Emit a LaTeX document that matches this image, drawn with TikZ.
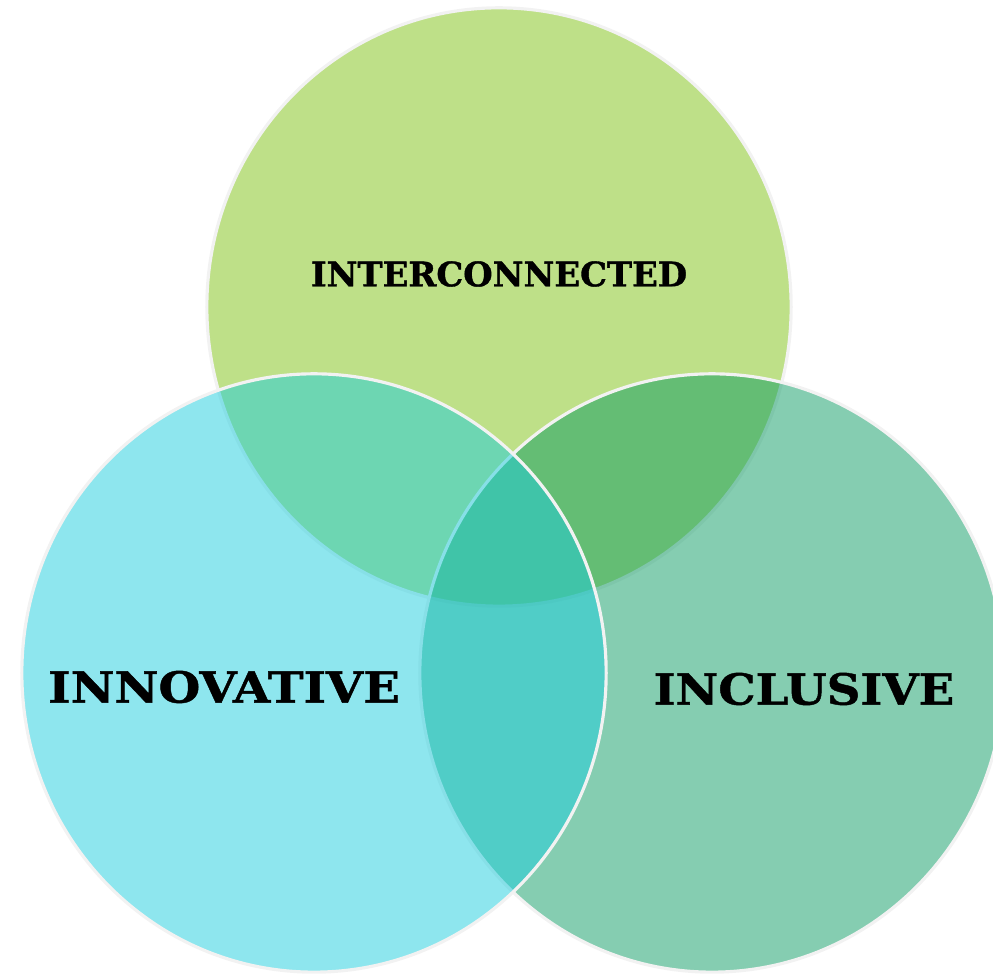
\documentclass[tikz,border=0pt]{standalone}
\usepackage{fontspec}
\setmainfont{DejaVu Serif}
\newfontfamily\vennfont{DejaVu Serif}[BoldFeatures={FakeBold=1}]
\usepackage{tikz}

\definecolor{topgreen}{RGB}{125,193,17}
\definecolor{rightteal}{RGB}{11,155,99}
\definecolor{leftcyan}{RGB}{29,205,221}
\definecolor{rimgray}{RGB}{242,242,242}

\tikzset{
  venn/.style={draw=rimgray,line width=0.9pt,fill opacity=0.5},
  vennlabel/.style={font=\vennfont\bfseries\fontsize{#1}{#1}\selectfont,inner sep=0pt,text=black}
}

\begin{document}
\begin{tikzpicture}[x=0.01cm,y=-0.01cm]
  \useasboundingbox (0,0) rectangle (993,974);
  \clip (0,0) rectangle (993,974);
  % top, right, then left on top
  \draw[venn,fill=topgreen] (499,307) ellipse [x radius=2.92cm,y radius=2.99cm];
  \draw[venn,fill=rightteal] (712,673) ellipse [x radius=2.92cm,y radius=2.99cm];
  \draw[venn,fill=leftcyan] (314,673) ellipse [x radius=2.92cm,y radius=2.99cm];

  \node[vennlabel=9.6] (interconnected) at (499,274) {INTERCONNECTED};
  \node[vennlabel=12.2] (innovative) at (224,687) {\scalebox{1.12}[1]{INNOVATIVE}};
  \node[vennlabel=12.2] (inclusive) at (804,689) {\scalebox{1.09}[1]{INCLUSIVE}};
\end{tikzpicture}
\end{document}
